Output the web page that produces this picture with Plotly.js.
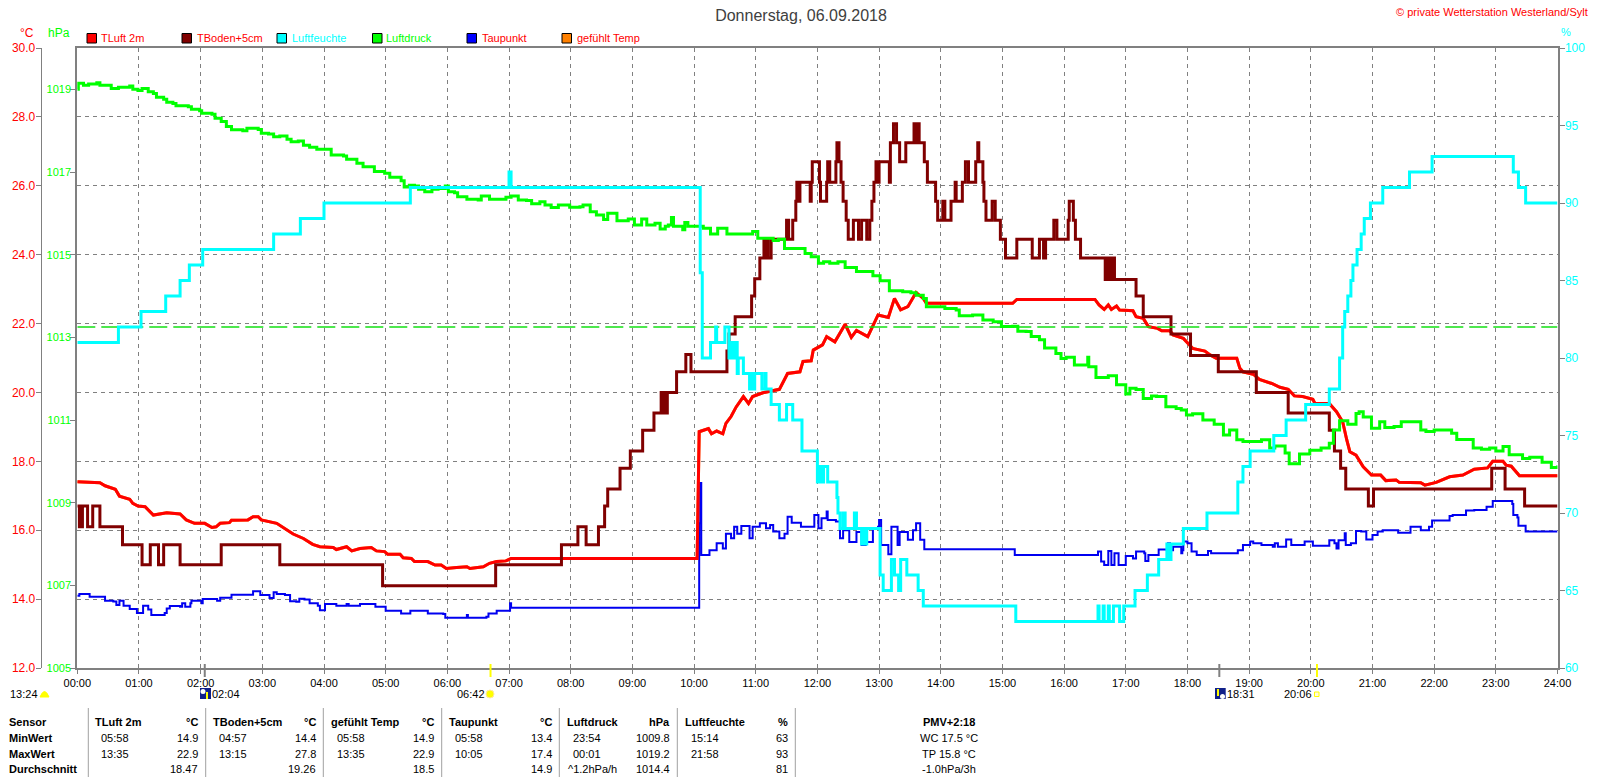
<!DOCTYPE html>
<html><head><meta charset="utf-8">
<script src="https://cdn.plot.ly/plotly-3.0.1.min.js"></script>
<style>html,body{margin:0;padding:0;background:#fff}#c{width:1600px;height:780px}</style>
</head><body><div id="c"></div>
<script>
// ---- series (minutes after midnight / value) ----
var tLuftT=[0,22,27,37,41,51,54,59,66,74,87,100,106,114,124,131,135,139,148,150,166,171,176,179,194,204,210,220,229,236,249,252,262,267,275,286,291,299,302,314,317,325,328,341,348,354,359,369,379,382,395,401,408,417,422,603,604,605,614,617,622,628,631,636,641,648,653,657,667,683,691,703,706,714,716,725,729,737,747,753,758,769,779,789,795,801,808,816,823,826,910,914,990,994,999,1003,1006,1011,1014,1027,1030,1037,1042,1051,1055,1063,1066,1076,1082,1085,1097,1102,1108,1128,1131,1134,1144,1150,1162,1170,1178,1184,1192,1202,1204,1218,1225,1231,1235,1238,1244,1251,1259,1268,1273,1283,1286,1307,1311,1322,1335,1348,1359,1372,1377,1387,1390,1395,1403,1440];
var tLuftV=[17.41,17.38,17.29,17.19,16.99,16.9,16.78,16.7,16.68,16.44,16.51,16.47,16.3,16.2,16.2,16.08,16.1,16.2,16.22,16.29,16.3,16.39,16.39,16.3,16.2,16.02,15.89,15.76,15.59,15.52,15.5,15.44,15.52,15.4,15.47,15.5,15.4,15.38,15.3,15.3,15.2,15.18,15.09,15.09,14.99,14.99,14.89,14.92,14.94,14.89,14.94,15.04,15.09,15.11,15.18,15.18,17.0,18.86,18.95,18.8,18.88,18.8,19.1,19.3,19.58,19.88,19.68,19.88,19.99,20.09,20.55,20.6,20.9,20.92,21.23,21.38,21.62,21.47,21.98,21.6,21.8,21.62,22.25,22.18,22.73,22.4,22.49,22.9,22.73,22.59,22.59,22.7,22.7,22.54,22.41,22.54,22.41,22.51,22.39,22.37,22.2,22.15,21.91,21.86,21.79,21.79,21.67,21.57,21.38,21.28,21.2,21.09,20.99,20.99,20.7,20.6,20.53,20.38,20.26,20.15,20.09,19.9,19.88,19.8,19.68,19.68,19.44,19.15,18.62,18.28,18.18,17.84,17.6,17.6,17.44,17.46,17.39,17.38,17.31,17.39,17.55,17.6,17.77,17.81,18.0,18.0,17.89,17.86,17.58,17.58];

var tBodenT=[0,2,3,4,5,10,15,22,44,63,71,79,84,100,140,197,297,407,471,487,495,507,513,516,528,538,550,561,568,569,571,572,574,583,592,597,632,634,640,656,659,664,668,669,671,672,675,690,692,696,699,700,701,703,713,714,715,722,723,729,730,732,738,739,741,743,745,748,750,755,760,763,768,771,773,775,777,778,780,790,791,794,797,800,806,814,816,817,819,824,827,835,837,842,844,850,854,855,861,864,867,874,876,877,881,882,884,890,893,898,903,914,929,936,940,942,950,953,964,965,969,971,976,1000,1002,1003,1005,1006,1008,1009,1030,1037,1064,1083,1110,1147,1178,1218,1223,1229,1234,1256,1261,1376,1389,1408,1440];
var tBodenV=[16.7,16.1,16.7,16.1,16.7,16.1,16.7,16.1,15.58,15.0,15.58,15.0,15.58,15.0,15.58,15.0,14.39,15.0,15.58,16.1,15.58,16.1,16.7,17.2,17.8,18.3,18.9,19.4,20.0,19.4,20.0,19.4,20.0,20.6,21.1,20.6,21.2,21.7,22.2,22.8,23.3,23.9,24.45,23.9,24.45,23.9,24.45,25.0,24.45,25.0,25.55,26.1,25.55,26.1,25.55,26.1,26.7,26.1,25.55,26.1,26.7,26.1,26.7,27.25,26.7,26.1,25.55,25.0,24.45,25.0,24.45,25.0,24.45,25.0,25.55,26.1,26.7,26.1,26.7,26.1,27.25,27.8,27.25,26.7,27.25,27.8,27.25,27.8,27.25,26.7,26.1,25.55,25.0,25.55,25.0,25.55,26.1,25.55,26.1,26.7,26.1,26.7,27.25,26.7,26.1,25.55,25.0,25.55,25.0,24.45,23.9,24.45,23.9,24.45,23.9,24.45,25.0,24.45,25.0,25.55,25.0,24.45,23.9,23.28,23.9,23.28,23.9,23.28,23.9,23.28,22.8,22.2,21.7,21.07,20.6,20.0,19.4,18.9,18.3,17.8,17.2,16.7,17.2,17.8,17.2,16.7,16.7];

var feuchteT=[0,40,62,86,100,109,122,191,217,240,324,420,422,606,608,616,621,622,630,634,636,638,640,642,643,648,654,655,657,659,666,669,670,675,683,690,696,705,720,722,724,726,730,739,740,742,745,747,756,758,763,765,766,768,781,784,792,795,799,801,807,818,823,913,993,994,998,999,1003,1004,1008,1014,1018,1029,1041,1052,1060,1062,1064,1076,1099,1129,1134,1141,1164,1176,1195,1218,1228,1231,1233,1236,1239,1241,1245,1249,1252,1258,1270,1296,1318,1397,1402,1409,1440];
var feuchteV=[81,82,83,84,85,86,87,88,89,90,91,92,91,85.5,80,81,82,81,82,80,81,80,81,79,80,79,78,79,78,79,78,79,78,77,76,77,76,74,72,73,72,73,72,71,70,69,70,69,70,69,68,69,68,69,66,65,67,66,65,67,66,65,64,63,64,63,64,63,64,63,64,63,64,65,66,67,68,67,68,69,70,72,73,74,75,76,77,78,80,82,83,84,85,86,87,88,89,90,91,92,93,92,91,90,90];

var druckT=[0,1,6,11,16,19,22,32,33,40,51,54,59,63,69,74,77,84,87,93,96,108,111,119,121,131,134,140,145,150,161,165,176,179,186,191,197,204,208,215,220,226,233,242,247,259,262,268,272,278,286,289,299,304,315,318,323,328,332,338,345,351,358,361,367,370,379,390,393,401,409,417,422,429,437,442,450,455,461,468,479,489,492,499,505,512,516,525,536,542,549,554,562,567,572,575,578,580,586,589,591,594,602,609,616,623,632,643,657,662,670,677,682,688,698,708,714,721,726,732,740,747,758,774,781,786,790,803,811,816,823,826,836,844,855,858,871,881,891,899,910,915,923,928,936,941,952,957,962,970,982,983,984,991,1003,1011,1016,1020,1024,1030,1037,1045,1050,1059,1069,1074,1079,1085,1095,1106,1115,1121,1128,1134,1152,1160,1165,1175,1179,1189,1199,1210,1218,1222,1228,1236,1244,1247,1251,1259,1267,1272,1281,1288,1294,1307,1312,1320,1337,1342,1350,1358,1366,1374,1380,1387,1393,1406,1413,1425,1434,1440];
var druckV=[1019.0,1019.15,1019.1,1019.13,1019.13,1019.16,1019.1,1019.1,1019.02,1019.05,1019.08,1019.0,1018.97,1019.02,1018.94,1018.9,1018.81,1018.76,1018.69,1018.66,1018.6,1018.58,1018.52,1018.48,1018.42,1018.4,1018.3,1018.22,1018.1,1018.02,1018.0,1018.06,1018.03,1017.94,1017.92,1017.85,1017.87,1017.79,1017.73,1017.75,1017.65,1017.6,1017.55,1017.55,1017.41,1017.39,1017.31,1017.31,1017.21,1017.13,1017.13,1017.01,1016.97,1016.87,1016.79,1016.64,1016.68,1016.66,1016.58,1016.52,1016.58,1016.6,1016.66,1016.52,1016.5,1016.4,1016.34,1016.32,1016.42,1016.34,1016.34,1016.39,1016.42,1016.32,1016.31,1016.23,1016.28,1016.2,1016.14,1016.2,1016.15,1016.16,1016.2,1016.04,1015.96,1015.85,1016.0,1015.82,1015.86,1015.72,1015.86,1015.72,1015.76,1015.62,1015.69,1015.72,1015.9,1015.69,1015.69,1015.6,1015.78,1015.69,1015.69,1015.64,1015.5,1015.64,1015.5,1015.5,1015.56,1015.4,1015.4,1015.34,1015.37,1015.15,1015.15,1015.03,1014.95,1014.79,1014.83,1014.79,1014.83,1014.69,1014.59,1014.49,1014.37,1014.37,1014.13,1014.1,1014.08,1014.02,1013.94,1013.74,1013.74,1013.7,1013.66,1013.52,1013.54,1013.42,1013.38,1013.26,1013.27,1013.15,1013.14,1013.02,1012.94,1012.74,1012.61,1012.49,1012.52,1012.33,1012.33,1012.52,1012.29,1012.03,1012.07,1011.85,1011.85,1011.63,1011.77,1011.74,1011.52,1011.58,1011.57,1011.32,1011.28,1011.24,1011.12,1011.15,1011.0,1010.9,1010.64,1010.76,1010.52,1010.48,1010.52,1010.32,1010.37,1010.2,1009.94,1010.18,1010.27,1010.32,1010.44,1010.76,1010.98,1010.9,1011.16,1011.2,1011.07,1010.8,1010.96,1010.82,1010.84,1010.96,1010.96,1010.76,1010.72,1010.76,1010.68,1010.53,1010.53,1010.32,1010.29,1010.32,1010.25,1010.36,1010.16,1010.07,1010.1,1009.98,1009.85,1009.9];

var taupunktT=[0,2,12,22,27,35,38,41,45,51,58,63,64,69,72,85,87,90,100,102,105,110,111,121,122,136,139,148,150,166,171,176,178,184,187,191,194,202,207,213,216,221,226,234,236,240,241,251,252,262,264,275,288,290,299,300,314,315,324,340,341,356,358,377,379,380,398,400,408,419,421,422,604,605,606,607,615,622,628,631,636,639,642,646,654,657,664,670,674,677,683,688,691,695,703,704,716,717,721,724,729,730,738,742,745,751,756,758,763,767,774,779,780,782,789,792,798,800,807,808,813,816,820,824,912,991,993,996,999,1003,1006,1009,1012,1013,1019,1020,1027,1030,1038,1039,1042,1051,1052,1060,1061,1063,1066,1074,1075,1076,1080,1084,1089,1097,1100,1103,1127,1129,1134,1140,1141,1144,1152,1163,1165,1168,1176,1181,1194,1202,1217,1218,1223,1225,1227,1233,1234,1239,1244,1249,1254,1260,1265,1270,1275,1285,1296,1297,1306,1307,1315,1318,1325,1335,1338,1348,1351,1359,1371,1377,1387,1396,1397,1401,1402,1408,1409,1440];
var taupunktV=[14.1,14.15,14.07,14.07,13.95,13.93,13.83,13.95,13.81,13.71,13.6,13.6,13.81,13.7,13.54,13.6,13.73,13.8,13.78,13.88,13.78,13.88,13.95,13.88,14.0,13.95,14.04,14.04,14.13,14.13,14.23,14.23,14.12,14.12,14.03,14.2,14.15,14.12,13.94,13.92,14.01,13.99,13.88,13.81,13.68,13.68,13.86,13.86,13.81,13.86,13.81,13.86,13.86,13.78,13.78,13.66,13.66,13.58,13.66,13.66,13.58,13.57,13.46,13.46,13.54,13.46,13.49,13.58,13.66,13.66,13.88,13.75,13.75,16.2,17.37,15.28,15.42,15.62,15.47,15.9,15.77,16.1,15.9,16.12,15.77,16.1,16.2,16.06,16.15,15.96,15.77,15.9,16.39,16.22,16.22,16.1,16.1,16.44,16.06,16.35,16.54,16.3,16.25,15.77,16.0,15.66,15.66,15.95,15.57,15.66,16.06,16.1,16.3,15.57,15.3,16.1,15.57,15.95,15.95,15.72,16.0,16.2,15.72,15.45,15.28,15.28,15.38,15.09,14.99,15.4,14.99,15.33,15.33,14.99,14.99,15.25,15.18,15.38,15.33,15.11,15.28,15.28,15.44,15.42,15.62,15.42,15.52,15.33,15.42,15.67,15.62,15.38,15.28,15.28,15.4,15.33,15.33,15.42,15.57,15.57,15.67,15.62,15.57,15.52,15.62,15.52,15.73,15.57,15.67,15.55,15.55,15.71,15.62,15.47,15.71,15.91,15.57,15.62,15.98,15.96,15.73,15.86,15.96,16.0,16.0,15.93,15.93,16.1,16.1,16.0,16.1,16.28,16.28,16.41,16.44,16.44,16.57,16.59,16.68,16.85,16.85,16.76,16.44,16.37,16.13,16.13,15.96,15.96];

var normDruck=[1013.25,1013.25], normT=[0,1440];

// ---- axes labels ----
var hourVals=[0,60,120,180,240,300,360,420,480,540,600,660,720,780,840,900,960,1020,1080,1140,1200,1260,1320,1380,1440];
var hourText=["00:00","01:00","02:00","03:00","04:00","05:00","06:00","07:00","08:00","09:00","10:00","11:00","12:00","13:00","14:00","15:00","16:00","17:00","18:00","19:00","20:00","21:00","22:00","23:00","24:00"];
var tempTicks=[12,14,16,18,20,22,24,26,28,30];
var tempText=["12.0","14.0","16.0","18.0","20.0","22.0","24.0","26.0","28.0","30.0"];
var hpaTicks=[1005,1007,1009,1011,1013,1015,1017,1019];
var pctTicks=[60,65,70,75,80,85,90,95,100];

// ---- legend ----
var legendNames=["TLuft 2m","TBoden+5cm","Luftfeuchte","Luftdruck","Taupunkt","gefühlt Temp"];
var legendFill=["#ff0000","#800000","#00ffff","#00ff00","#0000ff","#ff8000"];
var legendText=["#ff0000","#ff0000","#00ffff","#00ff00","#ff0000","#ff0000"];

// ---- sun / moon events ----
var moonRise=124, sunRise=402, moonSet=1111, sunSet=1206;
var eventLabels=["13:24","02:04","06:42","18:31","20:06"];

// ---- stats table ----
var rowLabels=["Sensor","MinWert","MaxWert","Durchschnitt"];
var colHead=["TLuft 2m","TBoden+5cm","gefühlt Temp","Taupunkt","Luftdruck","Luftfeuchte"];
var colUnit=["°C","°C","°C","°C","hPa","%"];
var minTime=["05:58","04:57","05:58","05:58","23:54","15:14"];
var minVal=["14.9","14.4","14.9","13.4","1009.8","63"];
var maxTime=["13:35","13:15","13:35","10:05","00:01","21:58"];
var maxVal=["22.9","27.8","22.9","17.4","1019.2","93"];
var avgVal=["18.47","19.26","18.5","14.9","1014.4","81"];
var trendText="^1.2hPa/h";
var pmvLines=["PMV+2:18","WC 17.5 °C","TP 15.8 °C","-1.0hPa/3h"];

// ---- layout geometry (pixels) ----
var W=1600,H=780,L=77.3,R=1557.5,T=48,B=668;
var px=function(x){return x/W},py=function(y){return 1-y/H};
var FONT='"Liberation Sans",Arial,sans-serif';
var ann=[],sh=[];
function txt(x,y,s,col,size,anchor,bold){
  ann.push({xref:'paper',yref:'paper',x:px(x),y:py(y),text:bold?'<b>'+s+'</b>':s,showarrow:false,
    xanchor:anchor||'left',yanchor:'middle',borderpad:0,borderwidth:0,font:{family:FONT,size:size||11,color:col||'#000'}});
}
function rect(x0,y0,x1,y1,fill,line,lw){
  sh.push({type:'rect',xref:'paper',yref:'paper',x0:px(x0),x1:px(x1),y0:py(y0),y1:py(y1),fillcolor:fill,line:{color:line||fill,width:lw==null?0:lw},layer:'above'});
}
function vline(x,y0,y1,col,w){
  sh.push({type:'line',xref:'paper',yref:'paper',x0:px(x),x1:px(x),y0:py(y0),y1:py(y1),line:{color:col,width:w},layer:'above'});
}

// units
txt(20,33,"°C","#ff0000",12); txt(48,33,"hPa","#00ff00",12); txt(1561,32,"%","#00ffff",11);
txt(1588,12,"© private Wetterstation Westerland/Sylt","#ff0000",11,'right');

// legend
var lsq=[87,182,277,372.5,467,562], ltx=[101,196.5,291.7,386,481.5,576.6];
legendNames.forEach(function(n,i){
  rect(lsq[i],33.5,lsq[i]+9.5,43,legendFill[i],'#000',1);
  txt(ltx[i],38,n,legendText[i],11);
});

// sun and moon marks on the time axis
[[moonRise,'#808080'],[sunRise,'#ffff00'],[moonSet,'#808080'],[sunSet,'#ffff00']].forEach(function(e){
  sh.push({type:'line',xref:'x',yref:'paper',x0:e[0],x1:e[0],y0:py(664),y1:py(677),line:{color:e[1],width:2},layer:'above'});
});
txt(10,694,eventLabels[0],'#000',11);
sh.push({type:'path',xref:'paper',yref:'paper',path:'M'+px(40)+','+py(697)+' Q'+px(44.5)+','+py(686)+' '+px(49)+','+py(697)+' Z',fillcolor:'#ffff00',line:{color:'#ffff00',width:1},layer:'above'});
rect(200,688,211,699,'#10208a');
sh.push({type:'circle',xref:'paper',yref:'paper',x0:px(200.5),x1:px(205.5),y0:py(689),y1:py(694),fillcolor:'#fff',line:{width:0},layer:'above'});
rect(206,692,208,699,'#ffff00');
txt(212,694,eventLabels[1],'#000',11);
txt(457,694,eventLabels[2],'#000',11);
sh.push({type:'circle',xref:'paper',yref:'paper',x0:px(486),x1:px(494),y0:py(690),y1:py(698),fillcolor:'#ffff00',line:{color:'#ffe9a0',width:1},layer:'above'});
rect(1215,688,1225.7,699,'#10208a');
sh.push({type:'circle',xref:'paper',yref:'paper',x0:px(1220),x1:px(1225),y0:py(694),y1:py(699),fillcolor:'#fff',line:{width:0},layer:'above'});
rect(1217,689,1219,696,'#ffff00');
txt(1227,694,eventLabels[3],'#000',11);
txt(1284,694,eventLabels[4],'#000',11);
rect(1314.5,692,1319,696.5,'#fffbe0','#ffff00',1);

// table
var rowY=[722,738,754,769];
rowLabels.forEach(function(r,i){txt(8.7,rowY[i],r,'#000',11,'left',true)});
var sep=[88.3,205.7,323.3,441.7,559.3,677.3,795.3];
sep.forEach(function(x){vline(x,708,777,'#a0a0a0',1)});
var headX=[95,212.7,330.7,448.7,566.7,684.7], timeX=[100.7,218.7,336.7,454.7,572.7,690.7], valX=[198.3,316,434.3,552.3,670.3,788.3];
colHead.forEach(function(h,i){
  txt(headX[i],rowY[0],h,'#000',11,'left',true);
  txt(valX[i],rowY[0],colUnit[i],'#000',11,'right',true);
  txt(timeX[i],rowY[1],minTime[i],'#000',11);
  txt(valX[i],rowY[1],minVal[i],'#000',11,'right');
  txt(timeX[i],rowY[2],maxTime[i],'#000',11);
  txt(valX[i],rowY[2],maxVal[i],'#000',11,'right');
  txt(valX[i],rowY[3],avgVal[i],'#000',11,'right');
});
txt(567.5,rowY[3],trendText,'#000',11);
pmvLines.forEach(function(s,i){txt(949.3,rowY[i],s,'#000',11,'center',i===0)});

function tr(name,x,y,col,w,shape,ax,dash){
  return {type:'scatter',mode:'lines',name:name,x:x,y:y,yaxis:ax||'y',hoverinfo:'skip',
    line:{color:col,width:w,shape:shape||'linear',dash:dash||'solid'}};
}
var data=[
  tr('Normaldruck',normT,normDruck,'#14e014',1.4,'linear','y2','18px,6px'),
  tr('Luftdruck',druckT,druckV,'#00ff00',3,'hv','y2'),
  tr('gefühlt Temp',tLuftT,tLuftV,'#ff8000',3),
  tr('Taupunkt',taupunktT,taupunktV,'#0000f0',2,'hv'),
  tr('Luftfeuchte',feuchteT,feuchteV,'#00ffff',3,'hv','y3'),
  tr('TLuft 2m',tLuftT,tLuftV,'#ff0000',3),
  tr('TBoden+5cm',tBodenT,tBodenV,'#800000',3,'hv')
];
var GR='#808080', yDom=[py(B),py(T)];
var layout={
  width:W,height:H,autosize:false,showlegend:false,paper_bgcolor:'#fff',plot_bgcolor:'#fff',
  margin:{l:0,r:0,t:0,b:0,pad:0},
  title:{text:'Donnerstag, 06.09.2018',x:801/W,xanchor:'center',y:py(15.5),yanchor:'middle',font:{family:FONT,size:16,color:'#404040'}},
  xaxis:{domain:[px(L),px(R)],range:[0,1440],tickmode:'array',tickvals:hourVals,ticktext:hourText,
    showgrid:true,gridcolor:GR,griddash:'4px,4px',gridwidth:1,zeroline:false,
    showline:true,linecolor:GR,linewidth:2,mirror:true,ticks:'outside',ticklen:4,tickcolor:GR,tickwidth:1,
    tickfont:{family:FONT,size:11,color:'#000'},automargin:false,fixedrange:true},
  yaxis:{domain:yDom,anchor:'free',position:px(40.7),side:'left',range:[12,30],tickmode:'array',tickvals:tempTicks,ticktext:tempText,
    showgrid:true,gridcolor:GR,griddash:'4px,4px',gridwidth:1,zeroline:false,
    showline:true,linecolor:GR,linewidth:1.5,ticks:'outside',ticklen:5,tickcolor:GR,ticklabelstandoff:-2,
    tickfont:{family:FONT,size:12,color:'#ff0000'},automargin:false,fixedrange:true},
  yaxis2:{domain:yDom,overlaying:'y',anchor:'x',side:'left',range:[1005,1020],tickmode:'array',tickvals:hpaTicks,
    showgrid:false,zeroline:false,showline:true,linecolor:GR,linewidth:2,ticks:'outside',ticklen:5,tickcolor:GR,ticklabelstandoff:-3,
    tickfont:{family:FONT,size:11,color:'#00ff00'},automargin:false,fixedrange:true},
  yaxis3:{domain:yDom,overlaying:'y',anchor:'x',side:'right',range:[60,100],tickmode:'array',tickvals:pctTicks,
    showgrid:false,zeroline:false,showline:true,linecolor:GR,linewidth:2,ticks:'outside',ticklen:5,tickcolor:GR,ticklabelstandoff:-2,
    tickfont:{family:FONT,size:12,color:'#00ffff'},automargin:false,fixedrange:true},
  annotations:ann,shapes:sh
};
Plotly.newPlot('c',data,layout,{displayModeBar:false,staticPlot:true,responsive:false});
</script></body></html>
